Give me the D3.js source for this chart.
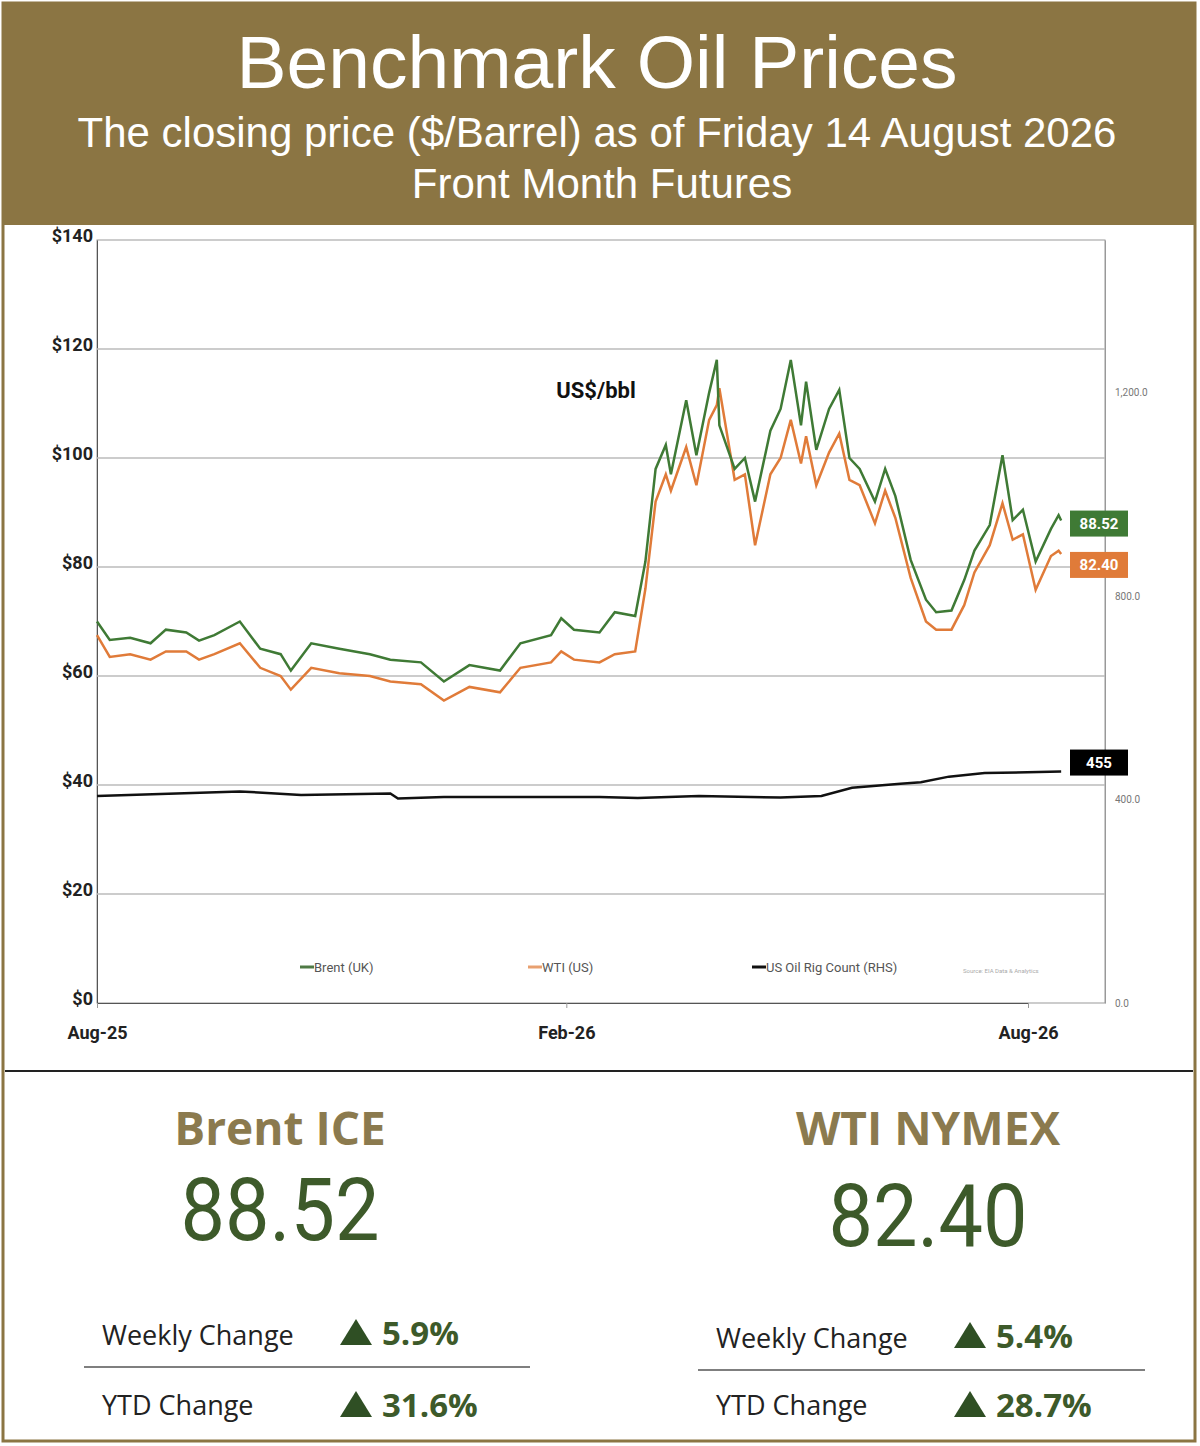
<!DOCTYPE html><html><head><meta charset="utf-8"><script src="https://cdn.jsdelivr.net/npm/d3@7"></script>
<style>body{margin:0;background:#fff}</style></head><body><svg id="c" width="1200" height="1446"></svg>
<script>
const dates=["2025-08-01","2025-08-06","2025-08-14","2025-08-22","2025-08-28","2025-09-05","2025-09-10","2025-09-16","2025-09-26","2025-10-04","2025-10-12","2025-10-16","2025-10-24","2025-11-04","2025-11-16","2025-11-24","2025-12-06","2025-12-15","2025-12-25","2026-01-06","2026-01-14","2026-01-26","2026-01-30","2026-02-04","2026-02-14","2026-02-20","2026-02-28","2026-03-04","2026-03-08","2026-03-12","2026-03-14","2026-03-20","2026-03-24","2026-03-29","2026-04-01","2026-04-02","2026-04-08","2026-04-12","2026-04-16","2026-04-22","2026-04-26","2026-04-30","2026-05-04","2026-05-06","2026-05-10","2026-05-15","2026-05-19","2026-05-23","2026-05-27","2026-06-02","2026-06-06","2026-06-10","2026-06-16","2026-06-22","2026-06-26","2026-07-02","2026-07-07","2026-07-11","2026-07-17","2026-07-22","2026-07-26","2026-07-30","2026-08-04","2026-08-10","2026-08-13","2026-08-14"];
const brent=[70,66.6,67,66,68.5,68,66.5,67.5,70,65,64,61,66,65,64,63,62.5,59,62,61,66,67.5,70.6,68.5,68,71.7,71,81,98,102.4,97,110.6,100.5,112,118,106,98,100,92,105,109,118,106,114,101.5,109,112.5,100,98,92,98,93,81.3,74,71.7,72,77.6,83,87.7,100.5,88.6,90.5,81,87,89.5,88.52];
const wti=[67.5,63.5,64,63,64.5,64.5,63,64,66,61.5,60,57.5,61.5,60.5,60,59,58.5,55.5,58,57,61.5,62.5,64.5,63,62.5,64,64.5,76,92,97,94,102,95,107,109.7,112.8,96,97,84,97,100,107,99,104,95,101,104.5,96,95,88,94,89,78,70,68.5,68.5,73,79,84,91.7,85,86,75.8,82,83,82.40];
const rigDates=["2025-08-01","2025-09-26","2025-10-20","2025-11-24","2025-11-27","2025-12-15","2026-02-14","2026-03-01","2026-03-25","2026-04-26","2026-05-12","2026-05-24","2026-06-12","2026-06-20","2026-07-01","2026-07-15","2026-08-14"];
const rig=[407,416,409,412,402,405,405,403,407,404,407,423,431,434,445,452,455];
const leftTicks=[0,20,40,60,80,100,120,140];
const rightTicks=[0,400,800,1200];
const xTickDates=["2025-08-01","2026-02-01","2026-08-01"], xTickLabels=["Aug-25","Feb-26","Aug-26"];

const svg=d3.select("#c"), p=d3.timeParse("%Y-%m-%d");
svg.append("rect").attr("x",3).attr("y",3).attr("width",1192).attr("height",1438).attr("fill","#fff").attr("stroke","#8b7543").attr("stroke-width",3);
svg.append("rect").attr("x",3).attr("y",3).attr("width",1192).attr("height",222).attr("fill","#8b7543");
const hf="Liberation Sans, Arial, sans-serif";
svg.append("text").attr("x",597).attr("y",88).attr("text-anchor","middle").attr("fill","#fff").attr("font-family",hf).attr("font-size",75).text("Benchmark Oil Prices");
svg.append("text").attr("x",597).attr("y",147).attr("text-anchor","middle").attr("fill","#fff").attr("font-family",hf).attr("font-size",42).text("The closing price ($/Barrel) as of Friday 14 August 2026");
svg.append("text").attr("x",602).attr("y",198).attr("text-anchor","middle").attr("fill","#fff").attr("font-family",hf).attr("font-size",42).text("Front Month Futures");

const x=d3.scaleTime().domain([p("2025-08-01"),p("2026-08-01")]).range([97,1028]);
const y=d3.scaleLinear().domain([0,140]).range([1003,240]);
const yr=d3.scaleLinear().domain([0,1500]).range([1003,240]);
const cf="Liberation Sans Narrow, Roboto, sans-serif";
svg.append("rect").attr("x",97).attr("y",240).attr("width",1008).attr("height",763).attr("fill","none").attr("stroke","#999");
const gl=svg.append("g").attr("transform","translate(97,0)").call(d3.axisLeft(y).tickValues(leftTicks).tickFormat(d=>"$"+d).tickSize(0).tickPadding(4));
gl.select(".domain").attr("stroke","#555");
gl.selectAll("text").attr("font-family",cf).attr("font-weight","bold").attr("font-size",18).attr("fill","#222").attr("dy","0.1em");
svg.append("g").selectAll("line").data(leftTicks.filter(d=>d>0&&d<140)).join("line").attr("x1",97).attr("x2",1105).attr("y1",d=>y(d)).attr("y2",d=>y(d)).attr("stroke","#bbb").attr("stroke-width",1.3);
const gr=svg.append("g").attr("transform","translate(1105,0)").call(d3.axisRight(yr).tickValues(rightTicks).tickFormat(d3.format(",.1f")).tickSize(0).tickPadding(10));
gr.select(".domain").attr("stroke","#999");
gr.selectAll("text").attr("font-family",cf).attr("font-size",10).attr("fill","#777");
const gx=svg.append("g").attr("transform","translate(0,1003)").call(d3.axisBottom(x).tickValues(xTickDates.map(p)).tickFormat((d,i)=>xTickLabels[i]).tickSize(5).tickPadding(18));
gx.select(".domain").attr("stroke","#555");
gx.selectAll("line").attr("stroke","#999");
gx.selectAll("text").attr("font-family",cf).attr("font-weight","bold").attr("font-size",18).attr("fill","#222");
const line=d3.line().x(d=>x(p(d[0]))).y(d=>d[1]);
svg.append("path").attr("d",line(dates.map((d,i)=>[d,y(wti[i])]))).attr("fill","none").attr("stroke","#e07b39").attr("stroke-width",2.5);
svg.append("path").attr("d",line(dates.map((d,i)=>[d,y(brent[i])]))).attr("fill","none").attr("stroke","#3f7a35").attr("stroke-width",2.5);
svg.append("path").attr("d",line(rigDates.map((d,i)=>[d,yr(rig[i])]))).attr("fill","none").attr("stroke","#111").attr("stroke-width",2.5);
svg.append("text").attr("x",596).attr("y",398).attr("text-anchor","middle").attr("font-family",cf).attr("font-weight","bold").attr("font-size",22).attr("fill","#111").text("US$/bbl");
function tag(yv,txt,col){svg.append("rect").attr("x",1070).attr("y",yv-13).attr("width",58).attr("height",26).attr("fill",col);
svg.append("text").attr("x",1099).attr("y",yv+5).attr("text-anchor","middle").attr("font-family",cf).attr("font-weight","bold").attr("font-size",15).attr("fill","#fff").text(txt);}
tag(y(brent[brent.length-1])+3,"88.52","#3f7a35");tag(y(wti[wti.length-1])+11,"82.40","#e07b39");tag(yr(rig[rig.length-1])-9,"455","#000");
[["Brent (UK)","#4f7a45",300],["WTI (US)","#e8a070",528],["US Oil Rig Count (RHS)","#111",752]].forEach(([t,c,lx])=>{
svg.append("line").attr("x1",lx).attr("x2",lx+14).attr("y1",967).attr("y2",967).attr("stroke",c).attr("stroke-width",3);
svg.append("text").attr("x",lx+14).attr("y",972).attr("font-family",cf).attr("font-size",13).attr("fill","#555").text(t);});
svg.append("text").attr("x",963).attr("y",973).attr("font-family",cf).attr("font-size",6).attr("fill","#aaa").text("Source: EIA Data & Analytics");
svg.append("line").attr("x1",5).attr("x2",1193).attr("y1",1071).attr("y2",1071).attr("stroke","#222").attr("stroke-width",2);

const panels=[{cx:280,name:"Brent ICE",val:"88.52",wk:"5.9%",ytd:"31.6%",x0:84,x1:530},{cx:928,name:"WTI NYMEX",val:"82.40",wk:"5.4%",ytd:"28.7%",x0:698,x1:1145}];
panels.forEach((q,i)=>{
svg.append("text").attr("x",q.cx).attr("y",1145).attr("text-anchor","middle").attr("font-family","Open Sans, sans-serif").attr("font-weight","bold").attr("font-size",46).attr("fill","#8b7a4e").text(q.name);
svg.append("text").attr("x",q.cx).attr("y",i?1246:1240).attr("text-anchor","middle").attr("font-family","Roboto, sans-serif").attr("font-size",88).attr("fill","#3d5a2a").attr("transform",`translate(${q.cx},0) scale(0.9,1) translate(${-q.cx},0)`).text(q.val);
const r1=i?1348:1345, r2=1415;
svg.append("text").attr("x",q.x0+18).attr("y",r1).attr("font-family","Open Sans, sans-serif").attr("font-size",27).attr("fill","#222").text("Weekly Change");
svg.append("text").attr("x",q.x0+18).attr("y",r2).attr("font-family","Open Sans, sans-serif").attr("font-size",27).attr("fill","#222").text("YTD Change");
svg.append("line").attr("x1",q.x0).attr("x2",q.x1).attr("y1",i?1370:1367).attr("y2",i?1370:1367).attr("stroke","#555").attr("stroke-width",1.5);
[[r1-4,q.wk],[r2-2,q.ytd]].forEach(([yy,t])=>{
const ax=q.x0+272;
svg.append("path").attr("d",`M${ax},${yy-22}L${ax+16},${yy+4}L${ax-16},${yy+4}Z`).attr("fill","#2f4f24");
svg.append("text").attr("x",ax+26).attr("y",yy+4).attr("font-family","Open Sans, sans-serif").attr("font-weight","bold").attr("font-size",33).attr("fill","#3d5a2a").text(t);});
});
</script></body></html>
